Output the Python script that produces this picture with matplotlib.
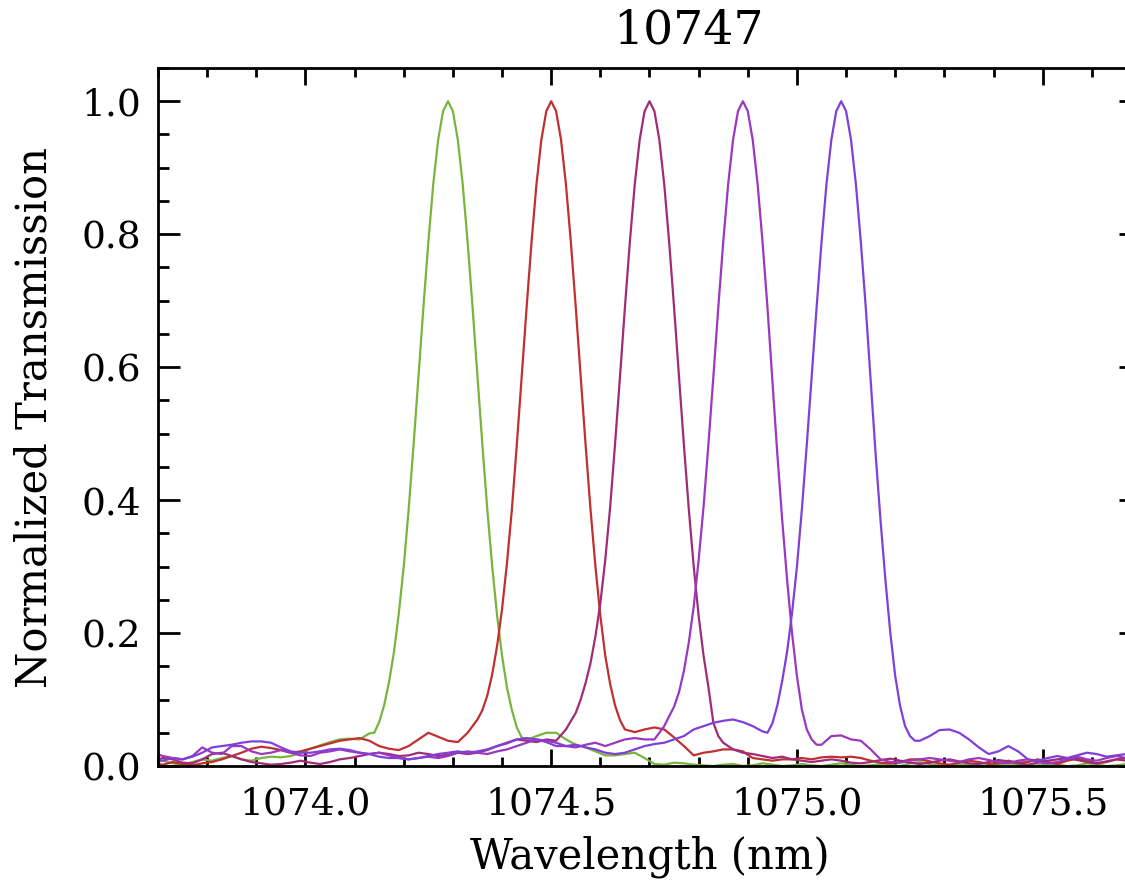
"""Normalized filter transmission curves for tuning set 10747."""

import numpy as np
import matplotlib

matplotlib.use("Agg")
import matplotlib.pyplot as plt
from matplotlib.ticker import MultipleLocator, FormatStrFormatter

OUT = "out.png"

# coarse wavelength grid (nm), 0.02 nm sampling, used for the baselines
WAVE = np.round(1073.69 + 0.02 * np.arange(102), 2)

GREEN = [
    0.005, 0.008, 0.004, 0.002, 0.006, 0.010, 0.008, 0.012, 0.015, 0.010,
    0.008, 0.012, 0.014, 0.013, 0.015, 0.020, 0.026, 0.031, 0.036, 0.040,
    0.041, 0.040, 0.049, 0.074, 0.120, 0.220, 0.375, 0.575, 0.782, 0.940,
    1.000, 0.940, 0.782, 0.575, 0.373, 0.214, 0.114, 0.054, 0.039, 0.045,
    0.050, 0.050, 0.040, 0.032, 0.028, 0.022, 0.016, 0.016, 0.018, 0.020,
    0.012, 0.003, 0.002, 0.005, 0.004, 0.002, 0.001, 0.000, 0.002, 0.003,
    0.000, 0.001, 0.004, 0.002, 0.000, 0.001, 0.003, 0.001, 0.000, 0.002,
    0.004, 0.002, 0.000, 0.001, 0.003, 0.002, 0.000, 0.004, 0.006, 0.003,
    0.001, 0.000, 0.002, 0.003, 0.001, 0.000, 0.002, 0.004, 0.002, 0.000,
    0.001, 0.003, 0.002, 0.000, 0.001, 0.004, 0.002, 0.000, 0.001, 0.003,
    0.002, 0.001,
]
RED = [
    0.004, 0.002, 0.006, 0.003, 0.001, 0.004, 0.006, 0.010, 0.015, 0.020,
    0.026, 0.029, 0.027, 0.024, 0.020, 0.022, 0.026, 0.030, 0.034, 0.038,
    0.040, 0.042, 0.038, 0.030, 0.026, 0.024, 0.030, 0.040, 0.050, 0.044,
    0.038, 0.036, 0.050, 0.080, 0.145, 0.250, 0.410, 0.607, 0.780, 0.930,
    1.000, 0.960, 0.820, 0.630, 0.430, 0.265, 0.140, 0.076, 0.051, 0.051,
    0.055, 0.058, 0.055, 0.043, 0.030, 0.016, 0.020, 0.022, 0.025, 0.025,
    0.022, 0.012, 0.010, 0.008, 0.010, 0.010, 0.012, 0.010, 0.013, 0.014,
    0.013, 0.014, 0.012, 0.008, 0.005, 0.004, 0.006, 0.010, 0.010, 0.007,
    0.004, 0.002, 0.005, 0.008, 0.006, 0.003, 0.004, 0.008, 0.005, 0.006,
    0.010, 0.006, 0.003, 0.008, 0.011, 0.008, 0.004, 0.006, 0.010, 0.012,
    0.009, 0.008,
]
MAROON = [
    0.008, 0.012, 0.010, 0.005, 0.004, 0.010, 0.018, 0.020, 0.015, 0.010,
    0.006, 0.004, 0.002, 0.003, 0.005, 0.008, 0.005, 0.003, 0.006, 0.010,
    0.012, 0.015, 0.018, 0.020, 0.018, 0.015, 0.016, 0.020, 0.018, 0.015,
    0.017, 0.020, 0.018, 0.020, 0.024, 0.030, 0.035, 0.040, 0.038, 0.036,
    0.040, 0.038, 0.055, 0.096, 0.160, 0.270, 0.420, 0.610, 0.800, 0.946,
    1.000, 0.960, 0.820, 0.630, 0.430, 0.265, 0.140, 0.050, 0.035, 0.025,
    0.020, 0.018, 0.015, 0.012, 0.014, 0.010, 0.008, 0.006, 0.008, 0.010,
    0.008, 0.005, 0.004, 0.006, 0.009, 0.011, 0.008, 0.005, 0.003, 0.005,
    0.008, 0.010, 0.007, 0.004, 0.003, 0.006, 0.009, 0.007, 0.004, 0.002,
    0.005, 0.008, 0.010, 0.012, 0.009, 0.006, 0.004, 0.007, 0.010, 0.008,
    0.006, 0.005,
]
MAGENTA = [
    0.020, 0.015, 0.012, 0.010, 0.015, 0.028, 0.020, 0.018, 0.030, 0.030,
    0.022, 0.018, 0.020, 0.024, 0.020, 0.016, 0.015, 0.020, 0.022, 0.025,
    0.022, 0.020, 0.018, 0.020, 0.016, 0.012, 0.010, 0.012, 0.014, 0.012,
    0.015, 0.020, 0.022, 0.020, 0.018, 0.022, 0.025, 0.030, 0.035, 0.040,
    0.038, 0.035, 0.030, 0.028, 0.032, 0.035, 0.030, 0.035, 0.040, 0.042,
    0.040, 0.040, 0.060, 0.095, 0.155, 0.260, 0.420, 0.607, 0.800, 0.946,
    1.000, 0.946, 0.800, 0.600, 0.400, 0.220, 0.100, 0.045, 0.032, 0.045,
    0.046, 0.040, 0.038, 0.025, 0.010, 0.006, 0.005, 0.008, 0.010, 0.012,
    0.010, 0.008, 0.006, 0.010, 0.012, 0.009, 0.006, 0.004, 0.008, 0.010,
    0.006, 0.004, 0.006, 0.010, 0.014, 0.010, 0.008, 0.012, 0.015, 0.012,
    0.014, 0.014,
]
VIOLET = [
    0.010, 0.008, 0.012, 0.010, 0.014, 0.020, 0.028, 0.030, 0.032, 0.035,
    0.037, 0.037, 0.035, 0.028, 0.022, 0.020, 0.020, 0.022, 0.025, 0.026,
    0.024, 0.020, 0.018, 0.014, 0.012, 0.012, 0.010, 0.012, 0.015, 0.018,
    0.020, 0.022, 0.020, 0.022, 0.025, 0.030, 0.034, 0.040, 0.042, 0.040,
    0.036, 0.030, 0.030, 0.032, 0.028, 0.025, 0.020, 0.018, 0.020, 0.025,
    0.030, 0.033, 0.035, 0.040, 0.045, 0.055, 0.060, 0.065, 0.068, 0.070,
    0.066, 0.060, 0.052, 0.075, 0.140, 0.260, 0.410, 0.607, 0.800, 0.946,
    1.000, 0.946, 0.800, 0.600, 0.400, 0.220, 0.100, 0.050, 0.038, 0.045,
    0.054, 0.055, 0.050, 0.040, 0.028, 0.018, 0.022, 0.030, 0.022, 0.010,
    0.008, 0.012, 0.015, 0.012, 0.016, 0.020, 0.018, 0.014, 0.016, 0.018,
    0.015, 0.015,
]

# finer 0.01 nm sampling across each passband: (first wavelength, values)
GREEN_PEAK = (1074.14, [
    0.050, 0.066, 0.091, 0.126, 0.171, 0.230, 0.300, 0.386, 0.483, 0.586,
    0.690, 0.788, 0.875, 0.942, 0.985, 1.000, 0.985, 0.942, 0.875, 0.788,
    0.690, 0.586, 0.483, 0.386, 0.300, 0.226, 0.166, 0.118, 0.084, 0.058,
    0.043,
])
RED_PEAK = (1074.35, [
    0.070, 0.084, 0.106, 0.138, 0.181, 0.236, 0.305, 0.386, 0.483, 0.586,
    0.690, 0.788, 0.875, 0.942, 0.985, 1.000, 0.985, 0.942, 0.875, 0.788,
    0.690, 0.586, 0.483, 0.386, 0.300, 0.226, 0.166, 0.123, 0.091, 0.069,
    0.055,
])
MAROON_PEAK = (1074.55, [
    0.080, 0.100, 0.125, 0.155, 0.195, 0.245, 0.310, 0.390, 0.485, 0.586,
    0.690, 0.788, 0.875, 0.942, 0.985, 1.000, 0.985, 0.942, 0.875, 0.788,
    0.690, 0.586, 0.483, 0.386, 0.300, 0.226, 0.166, 0.118, 0.065, 0.045,
    0.035,
])
MAGENTA_PEAK = (1074.74, [
    0.075, 0.089, 0.111, 0.143, 0.186, 0.240, 0.310, 0.390, 0.485, 0.586,
    0.690, 0.788, 0.875, 0.942, 0.985, 1.000, 0.985, 0.942, 0.875, 0.788,
    0.690, 0.580, 0.470, 0.370, 0.280, 0.200, 0.135, 0.085, 0.055, 0.040,
    0.032,
])
VIOLET_PEAK = (1074.94, [
    0.050, 0.064, 0.091, 0.128, 0.172, 0.230, 0.300, 0.386, 0.483, 0.586,
    0.690, 0.788, 0.875, 0.942, 0.985, 1.000, 0.985, 0.942, 0.875, 0.788,
    0.690, 0.580, 0.470, 0.370, 0.280, 0.200, 0.135, 0.090, 0.060, 0.045,
    0.038,
])

SERIES = [(GREEN, GREEN_PEAK), (RED, RED_PEAK), (MAROON, MAROON_PEAK),
          (MAGENTA, MAGENTA_PEAK), (VIOLET, VIOLET_PEAK)]
COLORS = ["#78b43e", "#c03030", "#a02c78", "#9a38c0", "#8040d8"]

FONT = "DejaVu Serif"


def merge(base, peak):
    """Swap the coarse samples under a passband for the fine ones."""
    start, vals = peak
    px = np.round(start + 0.01 * np.arange(len(vals)), 2)
    keep = (WAVE < px[0] - 1e-6) | (WAVE > px[-1] + 1e-6)
    x = np.concatenate([WAVE[keep], px])
    y = np.concatenate([np.asarray(base)[keep], vals])
    order = np.argsort(x)
    return x[order], y[order]


def main():
    fig = plt.figure(figsize=(11.25, 8.85), dpi=100)
    ax = fig.add_axes([0.14044, 0.13446, 0.87378, 0.78870])

    for (base, peak), col in zip(SERIES, COLORS):
        x, y = merge(base, peak)
        ax.plot(x, y, color=col, lw=1.6)

    ax.set_xlim(1073.7, 1075.7)
    ax.set_ylim(0.0, 1.05)

    ax.xaxis.set_major_locator(MultipleLocator(0.5))
    ax.xaxis.set_minor_locator(MultipleLocator(0.1))
    ax.yaxis.set_major_locator(MultipleLocator(0.2))
    ax.yaxis.set_minor_locator(MultipleLocator(0.05))
    ax.xaxis.set_major_formatter(FormatStrFormatter("%.1f"))
    ax.yaxis.set_major_formatter(FormatStrFormatter("%.1f"))

    ax.tick_params(which="both", direction="in", top=True, right=True,
                   width=2.0, colors="black")
    ax.tick_params(axis="x", which="major", length=12.5, pad=15)
    ax.tick_params(axis="x", which="minor", length=6.5)
    ax.tick_params(axis="y", which="major", length=15.5, pad=12)
    ax.tick_params(axis="y", which="minor", length=8)
    for lab in ax.get_xticklabels() + ax.get_yticklabels():
        lab.set_fontfamily(FONT)
        lab.set_fontsize(27)
    for sp in ax.spines.values():
        sp.set_linewidth(2.0)

    fig.text(649.5 / 1125, 1 - 857 / 885, "Wavelength (nm)", family=FONT,
             fontsize=30, ha="center", va="center")
    fig.text(35 / 1125, 1 - 418 / 885, "Normalized Transmission", family=FONT,
             fontsize=30, rotation=90, ha="center", va="center")
    fig.text(688 / 1125, 1 - 31 / 885, "10747", family=FONT,
             fontsize=34, ha="center", va="center")

    fig.savefig(OUT, dpi=100, facecolor="white")


if __name__ == "__main__":
    main()
